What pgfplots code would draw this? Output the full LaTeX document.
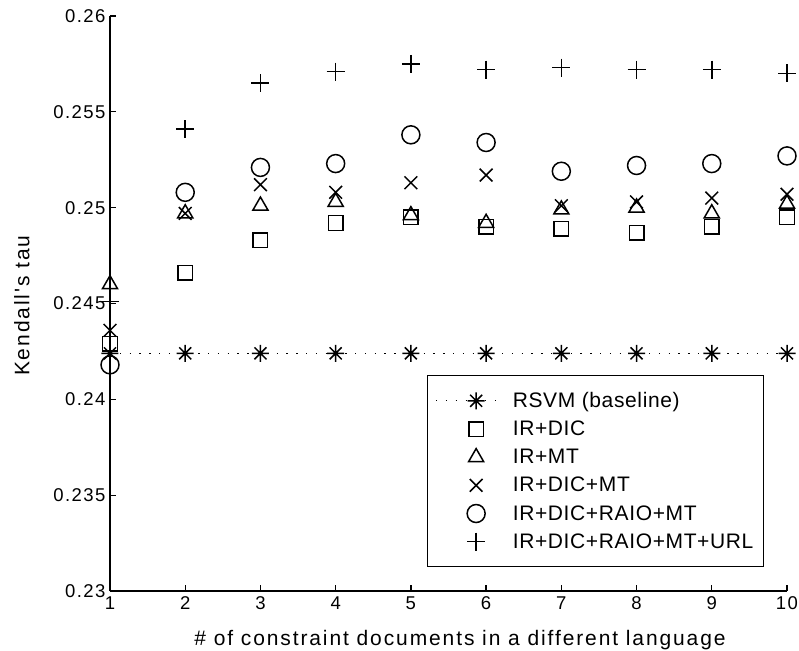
\documentclass[border=0pt]{standalone}
\usepackage{fontspec}
\setmainfont{Liberation Sans}
\newfontfamily\tickfont{Liberation Sans}[LetterSpace=8]
\newfontfamily\labfont{Liberation Sans}[LetterSpace=9]
\newfontfamily\legfont{Liberation Sans}[LetterSpace=3]
\usepackage{pgfplots}
\pgfplotsset{compat=1.18}
\pgfdeclareplotmark{mstar}{%
  \pgfpathmoveto{\pgfqpoint{0pt}{\pgfplotmarksize}}%
  \pgfpathlineto{\pgfqpoint{0pt}{-\pgfplotmarksize}}%
  \pgfpathmoveto{\pgfqpoint{\pgfplotmarksize}{0pt}}%
  \pgfpathlineto{\pgfqpoint{-\pgfplotmarksize}{0pt}}%
  \pgfpathmoveto{\pgfqpoint{0.7071\pgfplotmarksize}{0.7071\pgfplotmarksize}}%
  \pgfpathlineto{\pgfqpoint{-0.7071\pgfplotmarksize}{-0.7071\pgfplotmarksize}}%
  \pgfpathmoveto{\pgfqpoint{-0.7071\pgfplotmarksize}{0.7071\pgfplotmarksize}}%
  \pgfpathlineto{\pgfqpoint{0.7071\pgfplotmarksize}{-0.7071\pgfplotmarksize}}%
  \pgfusepathqstroke}
\pgfplotsset{mylegend/.style={legend image code/.code={\draw[mark repeat=2,mark phase=2,##1] plot coordinates {(0pt,0pt) (40pt,0pt) (64pt,0pt)};}}}
\begin{document}
\begin{tikzpicture}
\useasboundingbox (-110pt,-59pt) rectangle (689pt,591pt);
\begin{axis}[
  at={(0pt,0pt)}, anchor=south west,
  scale only axis, width=677pt, height=575pt,
  xmin=1, xmax=10, ymin=0.23, ymax=0.26,
  axis x line*=bottom, axis y line*=left,
  axis line style={line width=1.3pt},
  tick align=inside, major tick length=6pt,
  tick style={line width=1.3pt, black},
  xtick={1,2,...,10},
  ytick={0.23,0.235,0.24,0.245,0.25,0.255,0.26},
  scaled y ticks=false,
  /pgf/number format/assume math mode=true,
  tick label style={font=\tickfont\fontsize{18.5}{22}\selectfont},
  xticklabel style={yshift=-2pt},
  yticklabel style={xshift=-1pt, /pgf/number format/fixed, /pgf/number format/precision=3},
  xlabel={\# of constraint documents in a different language},
  ylabel={Kendall's tau},
  xlabel style={font=\labfont\fontsize{21}{24}\selectfont, at={(axis description cs:0.517,-0.094)}, anchor=base},
  ylabel style={font=\labfont\fontsize{21}{24}\selectfont, at={(axis description cs:-0.13,0.496)}, anchor=center},
  clip=false,
  legend style={at={(0.468,0.376)}, anchor=north west, draw=black, line width=1.3pt,
    font=\legfont\fontsize{21}{24}\selectfont, row sep=8pt, inner xsep=8pt, inner ysep=15pt,
    /tikz/every odd column/.append style={column sep=10pt}},
  legend cell align=left,
  every axis plot/.append style={black, line width=1.5pt},
]
\addplot[mylegend, line width=1.3pt, dash pattern=on 1.3pt off 8.5pt, mark=mstar, mark size=8.5pt, mark options={solid, line width=1.5pt}]
  coordinates {(1,0.2424) (2,0.2424) (3,0.2424) (4,0.2424) (5,0.2424) (6,0.2424) (7,0.2424) (8,0.2424) (9,0.2424) (10,0.2424)};
\addlegendentry{RSVM (baseline)}
\addplot[only marks, mylegend, mark=square, mark size=7.3pt]
  coordinates {(1,0.2429) (2,0.2466) (3,0.2483) (4,0.2492) (5,0.2495) (6,0.2490) (7,0.2489) (8,0.2487) (9,0.2490) (10,0.2495)};
\addlegendentry{IR+DIC}
\addplot[only marks, mylegend, mark=triangle, mark size=8.7pt]
  coordinates {(1,0.2460) (2,0.2497) (3,0.2501) (4,0.2503) (5,0.2496) (6,0.2492) (7,0.2499) (8,0.2500) (9,0.2497) (10,0.2502)};
\addlegendentry{IR+MT}
\addplot[only marks, mylegend, mark=x, mark size=9pt]
  coordinates {(1,0.2436) (2,0.2497) (3,0.2512) (4,0.2508) (5,0.2513) (6,0.2517) (7,0.2501) (8,0.2503) (9,0.2505) (10,0.2507)};
\addlegendentry{IR+DIC+MT}
\addplot[only marks, mylegend, mark=o, mark size=9pt]
  coordinates {(1,0.2418) (2,0.2508) (3,0.2521) (4,0.2523) (5,0.2538) (6,0.2534) (7,0.2519) (8,0.2522) (9,0.2523) (10,0.2527)};
\addlegendentry{IR+DIC+RAIO+MT}
\addplot[only marks, mylegend, mark=+, mark size=9pt]
  coordinates {(1,0.2451) (2,0.2541) (3,0.2565) (4,0.2571) (5,0.2575) (6,0.2572) (7,0.2573) (8,0.2572) (9,0.2572) (10,0.2570)};
\addlegendentry{IR+DIC+RAIO+MT+URL}
\end{axis}
\end{tikzpicture}
\end{document}
